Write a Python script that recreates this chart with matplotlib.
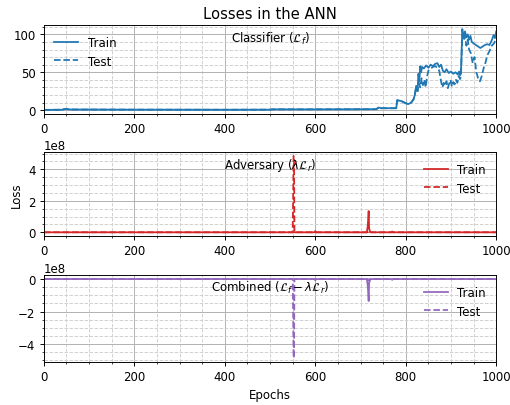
import matplotlib
matplotlib.use("Agg")
import matplotlib.pyplot as plt
import numpy as np

# classifier loss L_f
clf_train_ep = [0, 40, 48, 52, 60, 200, 400, 500, 505, 600, 735, 740, 745, 779, 781,
                790, 800, 806, 812, 817, 820, 823, 826, 828, 830, 832, 834, 836, 840,
                845, 850, 855, 860, 865, 870, 874, 878, 882, 886, 890, 895, 900, 905,
                910, 915, 918, 920, 922, 925, 928, 931, 934, 937, 940, 943, 946, 950,
                955, 960, 965, 970, 975, 980, 985, 990, 994, 997, 1000]
clf_train = [0.3, 0.5, 1.5, 1.2, 0.8, 0.6, 0.5, 0.6, 1.0, 1.0, 1.2, 3.5, 2.5, 2.5, 13,
             12, 9, 8, 10, 14, 20, 32, 25, 48, 38, 58, 50, 57, 55,
             59, 56, 60, 58, 61, 62, 57, 60, 52, 50, 54, 49, 51, 48,
             50, 47, 51, 46, 49, 107, 95, 104, 96, 100, 93, 98, 90, 88,
             86, 84, 82, 84, 86, 87, 86, 92, 99, 95, 104]

clf_test_ep = [0, 40, 48, 52, 60, 200, 400, 500, 505, 600, 735, 740, 745, 779, 781,
               790, 800, 806, 812, 817, 820, 823, 826, 829, 832, 835, 838, 841, 844,
               847, 850, 855, 860, 865, 870, 874, 878, 881, 884, 887, 890, 893, 896,
               899, 902, 905, 908, 911, 914, 917, 920, 922, 925, 928, 931, 934, 937,
               940, 944, 948, 952, 956, 960, 964, 968, 972, 976, 980, 985, 990, 995, 1000]
clf_test = [0.3, 0.5, 1.5, 1.2, 0.8, 0.6, 0.5, 0.6, 1.0, 1.0, 1.2, 3.5, 2.5, 2.5, 13,
            12, 9, 8, 10, 14, 20, 30, 25, 36, 30, 42, 33, 40, 30,
            44, 52, 55, 57, 58, 56, 52, 38, 30, 36, 32, 38, 29, 35,
            40, 31, 37, 34, 40, 36, 45, 41, 44, 100, 92, 98, 85, 93,
            80, 75, 62, 70, 50, 42, 38, 45, 55, 62, 72, 78, 85, 88, 95]

# adversary loss lambda * L_r
adv_train_ep = [0, 550, 552, 554, 598, 600, 602, 714, 716, 718, 719, 721, 724, 768, 770, 772, 1000]
adv_train = [0, 0, 0.02e8, 0, 0, 0.08e8, 0, 0, 0.4e8, 1.35e8, 0.25e8, 0.05e8, 0, 0, 0.05e8, 0, 0]

adv_test_ep = [0, 550, 551, 552, 553, 554, 600, 716, 718, 720, 1000]
adv_test = [0, 0, 2.0e8, 4.85e8, 4.7e8, 0, 0, 0, 0.1e8, 0, 0]

# combined loss L_f - lambda * L_r
cmb_train_ep = [0, 550, 552, 554, 598, 600, 602, 714, 716, 718, 719, 721, 724, 768, 770, 772, 1000]
cmb_train = [0, 0, -0.02e8, 0, 0, -0.08e8, 0, 0, -0.4e8, -1.35e8, -0.25e8, -0.05e8, 0, 0, -0.05e8, 0, 0]

cmb_test_ep = [0, 550, 551, 552, 553, 554, 600, 716, 718, 720, 1000]
cmb_test = [0, 0, -2.0e8, -4.85e8, -4.7e8, 0, 0, 0, -0.1e8, 0, 0]

panels = [
    ("Classifier ($\\mathcal{L}_f$)", "tab:blue", clf_train_ep, clf_train, clf_test_ep, clf_test, "upper left"),
    ("Adversary ($\\lambda\\mathcal{L}_r$)", "tab:red", adv_train_ep, adv_train, adv_test_ep, adv_test, "upper right"),
    ("Combined ($\\mathcal{L}_f - \\lambda\\mathcal{L}_r$)", "tab:purple", cmb_train_ep, cmb_train, cmb_test_ep, cmb_test, "upper right"),
]

fig = plt.figure(figsize=(6.0, 4.776), dpi=85)
rects = [[0.086, 0.717, 0.887, 0.219],
         [0.086, 0.416, 0.887, 0.207],
         [0.086, 0.106, 0.887, 0.214]]

axes = []
for rect, (name, col, ep_tr, y_tr, ep_te, y_te, loc) in zip(rects, panels):
    ax = fig.add_axes(rect)
    ax.plot(ep_tr, y_tr, color=col, lw=1.5, label="Train")
    ax.plot(ep_te, y_te, color=col, lw=1.5, ls="--", label="Test")
    ax.set_xlim(0, 1000)
    ax.minorticks_on()
    ax.grid(True, which="major", color="#b0b0b0", lw=0.8)
    ax.grid(True, which="minor", color="#d0d0d0", lw=0.8, ls="--")
    ax.text(0.5, 0.95, name, transform=ax.transAxes, ha="center", va="top", fontsize=10)
    ax.legend(loc=loc, frameon=False)
    axes.append(ax)

axes[0].set_title("Losses in the ANN", fontsize=12.5)
axes[1].set_ylabel("Loss")
axes[2].set_xlabel("Epochs")

fig.savefig("out.png", dpi=85)
